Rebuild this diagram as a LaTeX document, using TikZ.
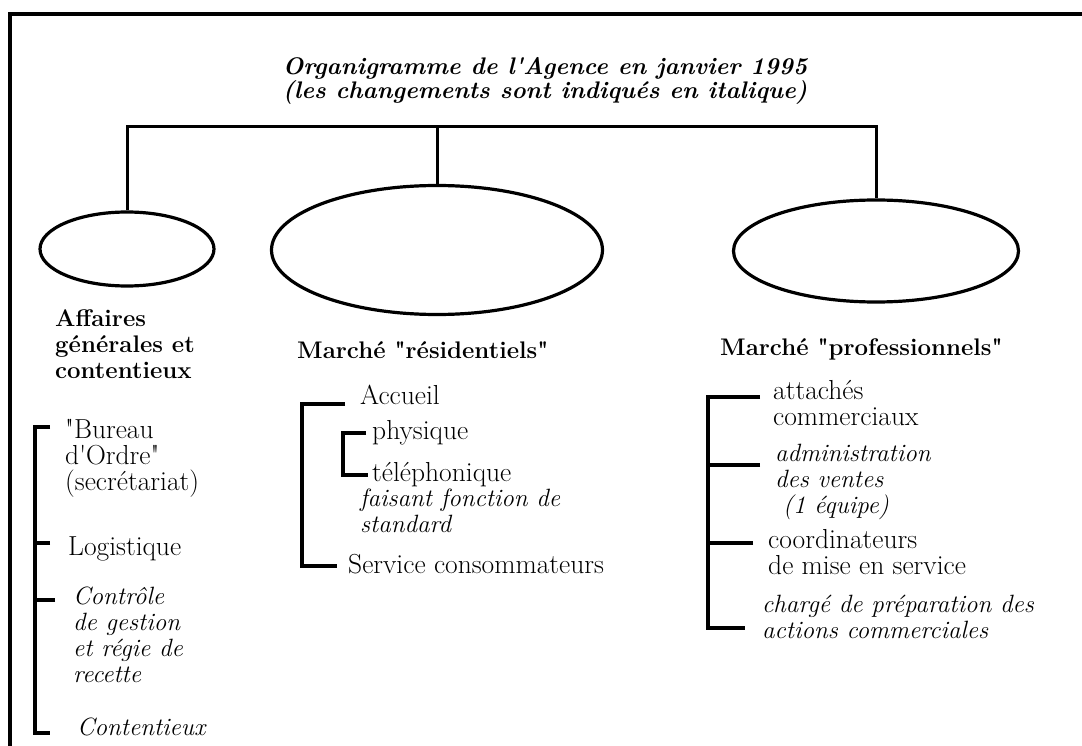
\documentclass[tikz,border=0pt]{standalone}
\usetikzlibrary{shapes.geometric}
% straight quote and apostrophe, past the TeX mapping
\newcommand{\strq}{{\XeTeXglyph\XeTeXcharglyph"22 }}
\newcommand{\strap}{{\XeTeXglyph\XeTeXcharglyph"27 }}

\begin{document}
\begin{tikzpicture}[x=1pt,y=-1pt,
    orgunit/.style={draw,ellipse,line width=3.2pt,inner sep=0pt},
    treeline/.style={line width=3pt},
    brackline/.style={line width=3.3pt},
    headtext/.style={font=\fontsize{24}{26}\selectfont\bfseries,anchor=north west,
                     inner sep=0pt,align=left,execute at begin node=\strut},
    itemtext/.style={font=\fontsize{27.5}{26}\selectfont,anchor=north west,
                     inner sep=0pt,align=left,execute at begin node=\strut},
    newtext/.style={itemtext,font=\fontsize{25}{26}\selectfont\itshape}]
  \useasboundingbox (0,0) rectangle (1082,746);
  % Frame (open at right and bottom)
  \draw[line width=4pt] (10,746) -- (10,14) -- (1082,14);
  % Title
  \node[font=\fontsize{24}{22}\selectfont\bfseries\itshape,anchor=north,
        inner sep=0pt,align=center,execute at begin node=\strut] (title) at (545,57)
       {Organigramme de l\strap Agence en janvier 1995\\
        (les changements sont indiqués en italique)};
  % Units
  \node[orgunit,minimum width=174pt,minimum height=74pt] (affaires) at (127,249) {};
  \node[orgunit,minimum width=331pt,minimum height=129pt] (residentiels) at (437,250) {};
  \node[orgunit,minimum width=285pt,minimum height=102pt] (professionnels) at (876,251) {};
  % Tree
  \coordinate (hub) at (437,127);
  \draw[treeline] (affaires.north) |- (hub) -| (professionnels.north);
  \draw[treeline] (hub) -- (residentiels.north);
  % Affaires generales
  \node[headtext] (affLbl) at (55,309) {Affaires\\générales et\\contentieux};
  \node[itemtext] (bureau) at (65,419) {\strq Bureau\\d\strap Ordre\strq\\(secrétariat)};
  \node[itemtext] (logist) at (68,537) {Logistique};
  \node[newtext] (controle) at (73,587) {Contrôle\\de gestion\\et régie de\\recette};
  \node[newtext] (content) at (77,717) {Contentieux};
  \coordinate (g1) at (50,427);
  \coordinate (g2) at (50,543);
  \coordinate (g3) at (55,600);
  \coordinate (g4) at (50,733);
  \draw[brackline] (g1) -- ++(-15,0) |- (g4);
  \draw[brackline] (g2) -- ++(-15,0);
  \draw[brackline] (g3) -- ++(-20,0);
  % Marche residentiels
  \node[headtext] (resLbl) at (297,340) {Marché \strq résidentiels\strq};
  \node[itemtext] (accueil) at (360,385) {Accueil};
  \node[itemtext] (physique) at (372,420) {physique};
  \node[itemtext] (telephon) at (372,462) {téléphonique};
  \node[newtext] (standard) at (360,489) {faisant fonction de\\standard};
  \node[itemtext] (service) at (348,554) {Service consommateurs};
  \coordinate (r1) at (345,404);
  \coordinate (r2) at (337,566);
  \coordinate (r3) at (366,433);
  \coordinate (r4) at (368,475);
  \draw[brackline] (r1) -- ++(-43,0) |- (r2);
  \draw[brackline] (r3) -- ++(-23,0) |- (r4);
  % Marche professionnels
  \node[headtext] (proLbl) at (720,337) {Marché \strq professionnels\strq};
  \node[itemtext] (attaches) at (773,380) {attachés\\commerciaux};
  \node[newtext] (admin) at (775,444) {administration\\des ventes\\\hspace{8pt}(1 équipe)};
  \node[itemtext] (coord) at (768,529) {coordinateurs\\de mise en service};
  \node[newtext] (charge) at (762,595) {chargé de préparation des\\actions commerciales};
  \coordinate (p1) at (760,397);
  \coordinate (p2) at (760,465);
  \coordinate (p3) at (753,543);
  \coordinate (p4) at (745,628);
  \draw[brackline] (p1) -- ++(-52,0) |- (p4);
  \draw[brackline] (p2) -- ++(-52,0);
  \draw[brackline] (p3) -- ++(-45,0);
\end{tikzpicture}
\end{document}
